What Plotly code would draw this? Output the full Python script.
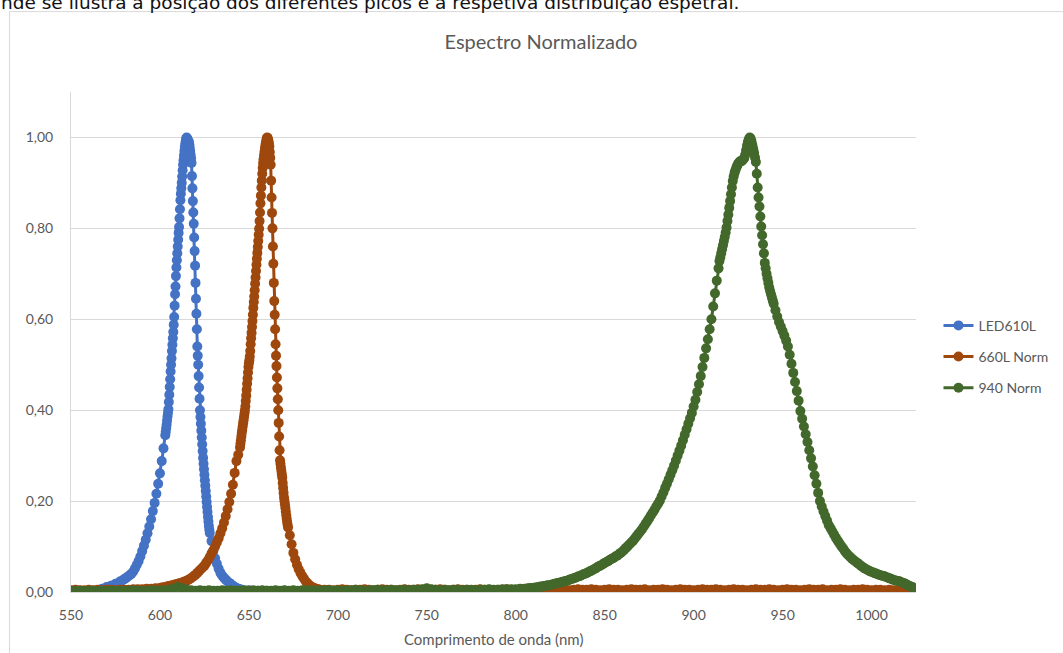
import plotly.graph_objects as go

# Normalised emission spectra. Each spectrum is stored as sampled runs:
# (first wavelength in nm, sampling step in nm, normalised intensities).
LED610L = [
    (550, 2.5, [0.002, 0.002, 0.003, 0.002, 0.003, 0.003, 0.004, 0.007, 0.011, 0.014, 0.018, 0.023]),
    (579, 1, [0.026, 0.028, 0.031, 0.034, 0.037, 0.040, 0.045, 0.052, 0.060, 0.068,
              0.078, 0.090, 0.102, 0.115, 0.129, 0.144, 0.160, 0.178, 0.196, 0.216,
              0.238, 0.261, 0.288, 0.316, 0.345]),
    (603.25, 0.25, [0.352, 0.360, 0.368, 0.377, 0.386, 0.394, 0.402, 0.418, 0.434, 0.451,
                    0.468, 0.485, 0.500, 0.514, 0.530, 0.544, 0.558, 0.572, 0.588, 0.605,
                    0.630, 0.655, 0.672, 0.695, 0.714, 0.730, 0.745, 0.760, 0.775, 0.790,
                    0.803, 0.822, 0.842, 0.862, 0.876, 0.888, 0.900, 0.914, 0.928, 0.940,
                    0.950, 0.960, 0.970, 0.979, 0.986, 0.992, 0.997, 1.000, 0.998, 0.996,
                    0.994, 0.992, 0.990, 0.985, 0.978, 0.970, 0.962, 0.954, 0.944, 0.915,
                    0.888, 0.860, 0.835, 0.810, 0.780, 0.750, 0.718, 0.680, 0.645, 0.612,
                    0.578, 0.540, 0.520, 0.500, 0.475, 0.450, 0.425, 0.400, 0.385, 0.370,
                    0.355, 0.340, 0.325, 0.310, 0.295, 0.282, 0.270, 0.258, 0.246, 0.234,
                    0.222, 0.210, 0.198, 0.187, 0.176, 0.165, 0.155, 0.145, 0.137, 0.130]),
    (629, 1, [0.112, 0.090, 0.074, 0.062, 0.051, 0.042, 0.036, 0.031, 0.027, 0.023,
              0.020, 0.017, 0.014, 0.011, 0.009, 0.007, 0.006, 0.005]),
    (650, 5, [0.004, 0.003, 0.003, 0.002, 0.003, 0.002, 0.002, 0.003, 0.002, 0.002,
              0.003, 0.002, 0.002, 0.003, 0.002, 0.002, 0.003, 0.002, 0.002, 0.003,
              0.002, 0.002, 0.003, 0.002, 0.002, 0.003, 0.002, 0.002, 0.003, 0.002,
              0.002, 0.003, 0.002, 0.002, 0.003, 0.002, 0.002, 0.003, 0.002, 0.002,
              0.003, 0.002, 0.002, 0.003, 0.002, 0.002, 0.003, 0.002, 0.002, 0.003,
              0.002, 0.002, 0.003, 0.002, 0.002, 0.003, 0.002, 0.002, 0.003, 0.002,
              0.002, 0.003, 0.002, 0.002, 0.003, 0.002, 0.002, 0.003, 0.002, 0.002,
              0.003, 0.002, 0.002, 0.003, 0.002, 0.002]),
]

LED660_NORM = [
    (550, 2.5, [0.004, 0.005, 0.004, 0.004, 0.005, 0.004, 0.005, 0.004, 0.005, 0.005,
                0.004, 0.005, 0.005, 0.005, 0.006, 0.006, 0.006, 0.007, 0.007, 0.008, 0.009]),
    (601, 1, [0.010, 0.010, 0.011, 0.012, 0.013, 0.014, 0.015, 0.016, 0.017, 0.018,
              0.019, 0.020, 0.022, 0.023, 0.025, 0.027, 0.029, 0.032, 0.035, 0.038,
              0.042, 0.046, 0.050, 0.054, 0.058, 0.064, 0.070, 0.077, 0.085, 0.092,
              0.100, 0.109, 0.118, 0.129, 0.140, 0.153, 0.167, 0.182, 0.198, 0.216,
              0.236, 0.262, 0.288, 0.302, 0.318]),
    (645.25, 0.25, [0.326, 0.334, 0.342, 0.350, 0.357, 0.364, 0.371, 0.378, 0.385, 0.392,
                    0.399, 0.408, 0.420, 0.432, 0.445, 0.458, 0.470, 0.483, 0.495, 0.503,
                    0.510, 0.518, 0.530, 0.545, 0.558, 0.570, 0.583, 0.596, 0.610, 0.625,
                    0.638, 0.650, 0.664, 0.678, 0.692, 0.706, 0.720, 0.733, 0.746, 0.759,
                    0.772, 0.786, 0.799, 0.816, 0.835, 0.855, 0.872, 0.890, 0.905, 0.920,
                    0.933, 0.944, 0.952, 0.960, 0.968, 0.975, 0.981, 0.987, 0.992, 0.997,
                    1.000, 0.999, 0.996, 0.992, 0.987, 0.980, 0.968, 0.955, 0.940, 0.905,
                    0.868, 0.834, 0.800, 0.760, 0.722, 0.680, 0.640, 0.610, 0.578, 0.545,
                    0.520, 0.497, 0.472, 0.448, 0.424, 0.400, 0.372, 0.342, 0.312, 0.290,
                    0.282, 0.274, 0.266, 0.259, 0.252, 0.240, 0.229, 0.218, 0.208, 0.200,
                    0.193, 0.185, 0.177, 0.169, 0.161, 0.154, 0.148, 0.142]),
    (673, 1, [0.125, 0.105, 0.086, 0.072, 0.060, 0.050, 0.042, 0.035, 0.029, 0.023,
              0.019, 0.015, 0.012, 0.010, 0.008, 0.007, 0.006, 0.005]),
    (692.5, 2.5, [0.005, 0.005, 0.004, 0.005, 0.006, 0.005, 0.004, 0.005, 0.005, 0.006,
                  0.005, 0.004, 0.005, 0.006, 0.005, 0.005, 0.004, 0.005, 0.006, 0.005,
                  0.005, 0.006, 0.005, 0.004, 0.005, 0.005, 0.006, 0.005, 0.004, 0.005,
                  0.006, 0.005, 0.005, 0.004, 0.005, 0.006, 0.005, 0.005, 0.004, 0.005,
                  0.005, 0.006, 0.005, 0.004, 0.005, 0.006, 0.005, 0.005, 0.006, 0.005,
                  0.004, 0.005, 0.006, 0.005, 0.005, 0.004, 0.005, 0.006, 0.005, 0.005,
                  0.006, 0.005, 0.004, 0.005, 0.006, 0.005, 0.005, 0.004, 0.005, 0.006,
                  0.005, 0.005, 0.006, 0.004, 0.005, 0.005, 0.006, 0.005, 0.004, 0.005,
                  0.006, 0.005, 0.005, 0.004, 0.005, 0.006, 0.005, 0.005, 0.006, 0.005,
                  0.004, 0.005, 0.006, 0.005, 0.005, 0.004, 0.005, 0.006, 0.005, 0.005,
                  0.006, 0.005, 0.004, 0.005, 0.006, 0.005, 0.005, 0.004, 0.005, 0.006,
                  0.005, 0.005, 0.006, 0.004, 0.005, 0.005, 0.006, 0.005, 0.004, 0.005,
                  0.005, 0.006, 0.005, 0.004, 0.005, 0.005, 0.004, 0.005, 0.004, 0.004,
                  0.004, 0.003, 0.003, 0.003]),
]

LED940_NORM = [
    (550, 2.5, [0.003, 0.002, 0.003, 0.002, 0.003, 0.003, 0.002, 0.003, 0.002, 0.003,
                0.003, 0.002, 0.003, 0.003, 0.004, 0.003, 0.002, 0.003, 0.004, 0.003,
                0.004, 0.003, 0.005, 0.007, 0.011, 0.008, 0.005, 0.004, 0.003, 0.004,
                0.003, 0.004, 0.003, 0.003, 0.004, 0.003, 0.004, 0.003, 0.003, 0.004,
                0.003, 0.004, 0.003, 0.004, 0.003, 0.003, 0.004, 0.003, 0.004, 0.003,
                0.004, 0.003, 0.004, 0.004, 0.003, 0.004, 0.003, 0.004, 0.004, 0.003,
                0.004, 0.003, 0.004, 0.004, 0.005, 0.004, 0.003, 0.004, 0.004, 0.005,
                0.004, 0.004, 0.005, 0.004, 0.004, 0.005, 0.004, 0.005, 0.005, 0.006,
                0.008, 0.006, 0.005, 0.004, 0.005, 0.004, 0.005, 0.005, 0.004, 0.005,
                0.005, 0.004, 0.005, 0.005, 0.006, 0.005, 0.005, 0.006, 0.006, 0.006,
                0.006, 0.007, 0.007]),
    (806, 1, [0.007, 0.008, 0.008, 0.009, 0.009, 0.010, 0.010, 0.011, 0.012, 0.012,
              0.013, 0.014, 0.015, 0.015, 0.016, 0.017, 0.018, 0.019, 0.020, 0.021,
              0.022, 0.023, 0.024, 0.025, 0.027, 0.028, 0.029, 0.031, 0.032, 0.034,
              0.035, 0.037, 0.039, 0.040, 0.042, 0.044, 0.046, 0.048, 0.050, 0.052,
              0.055, 0.057, 0.059, 0.061, 0.064, 0.066, 0.068, 0.071, 0.073, 0.075,
              0.078, 0.080, 0.083, 0.086, 0.089, 0.093, 0.097, 0.101, 0.105, 0.109,
              0.113, 0.118, 0.123, 0.128, 0.133, 0.138, 0.144, 0.150, 0.156, 0.162,
              0.169, 0.175, 0.181, 0.188, 0.194, 0.201, 0.210, 0.219, 0.229, 0.238,
              0.248, 0.258, 0.268, 0.278, 0.289, 0.300, 0.311, 0.322, 0.334, 0.346,
              0.358, 0.370, 0.382, 0.394, 0.408, 0.423, 0.440, 0.457, 0.475, 0.495,
              0.515, 0.536, 0.556, 0.578, 0.600, 0.628, 0.657, 0.685, 0.712]),
    (914.5, 0.5, [0.728, 0.736, 0.745, 0.754, 0.763, 0.772, 0.781, 0.791, 0.802, 0.816,
                  0.830, 0.845, 0.860, 0.875, 0.890, 0.904, 0.914, 0.922, 0.928, 0.934,
                  0.938, 0.942, 0.945, 0.947, 0.948, 0.948, 0.950, 0.952, 0.955, 0.962,
                  0.972, 0.982, 0.990, 0.996, 1.000, 0.998, 0.992, 0.984, 0.975, 0.966,
                  0.956, 0.946, 0.920, 0.890, 0.868, 0.848, 0.826, 0.804, 0.785, 0.765,
                  0.745, 0.724, 0.712, 0.700, 0.690, 0.680, 0.670, 0.662, 0.655, 0.648,
                  0.641, 0.634]),
    (946, 1, [0.620, 0.606, 0.594, 0.584, 0.574, 0.564, 0.553, 0.540, 0.522, 0.502,
              0.482, 0.462, 0.442, 0.421, 0.398, 0.381, 0.364, 0.347, 0.330, 0.312,
              0.294, 0.276, 0.257, 0.238, 0.218, 0.200, 0.188, 0.177, 0.167, 0.157,
              0.147, 0.140, 0.133, 0.126, 0.119, 0.113, 0.107, 0.101, 0.096, 0.090,
              0.085, 0.081, 0.077, 0.073, 0.070, 0.067, 0.064, 0.061, 0.058, 0.055,
              0.052, 0.050, 0.048, 0.046, 0.044, 0.043, 0.041, 0.040, 0.038, 0.037,
              0.036, 0.035, 0.033, 0.032, 0.030, 0.029, 0.027, 0.026, 0.025, 0.024,
              0.023, 0.021, 0.020, 0.018, 0.016, 0.014, 0.012, 0.011, 0.008, 0.005]),
]

SERIES = [
    ("LED610L", LED610L, "#4472C4"),
    ("660L Norm", LED660_NORM, "#9E480E"),
    ("940 Norm", LED940_NORM, "#43682B"),
]

X_RANGE = [550, 1025]
Y_RANGE = [0, 1.1]

# Figure geometry (pixels)
W, H = 1063, 653
L, R, T, B = 71, 916.5, 92, 592.5


def px_x(px):
    return (px - L) / (R - L)


def px_y(py):
    return (B - py) / (B - T)


def expand(runs):
    xs, ys = [], []
    for start, step, vals in runs:
        for i, v in enumerate(vals):
            xs.append(round(start + step * i, 3))
            ys.append(v)
    return xs, ys


GREY = "#595959"
FONT = "Lato"

fig = go.Figure()
for name, runs, color in SERIES:
    xs, ys = expand(runs)
    fig.add_trace(go.Scatter(
        x=xs, y=ys, name=name, legendgroup=name,
        mode="lines+markers",
        line=dict(color=color, width=3),
        marker=dict(color=color, size=10, line=dict(width=0)),
    ))

fig.update_layout(
    width=W, height=H,
    margin=dict(l=L, r=W - R, t=T, b=H - B, autoexpand=False),
    paper_bgcolor="white", plot_bgcolor="white",
    separators=",.",
    font=dict(family=FONT, color=GREY, size=14),
    title=dict(text="Espectro Normalizado", x=541 / W, xref="container", xanchor="center",
               y=1 - 42 / H, yref="container", yanchor="middle",
               font=dict(family=FONT, size=20, color=GREY)),
    showlegend=True,
    legend=dict(x=px_x(939), xanchor="left", y=px_y(310), yanchor="top",
                font=dict(family=FONT, size=14, color=GREY),
                traceorder="grouped", tracegroupgap=10,
                bgcolor="rgba(0,0,0,0)", borderwidth=0),
    xaxis=dict(range=X_RANGE, tick0=550, dtick=50, tickformat="d",
               showgrid=False, zeroline=False,
               showline=True, linecolor="#D9D9D9", linewidth=1,
               ticks="", ticklabelstandoff=10,
               tickfont=dict(family=FONT, size=14, color=GREY)),
    yaxis=dict(range=Y_RANGE, tick0=0, dtick=0.2, tickformat=".2f",
               showgrid=True, gridcolor="#D9D9D9", gridwidth=1, zeroline=False,
               showline=True, linecolor="#D9D9D9", linewidth=1,
               ticks="", ticklabelstandoff=14,
               tickfont=dict(family=FONT, size=14, color=GREY)),
    annotations=[
        dict(text="Comprimento de onda (nm)", x=0.5, y=px_y(640), xref="paper", yref="paper",
             xanchor="center", yanchor="middle", showarrow=False,
             font=dict(family=FONT, size=15, color=GREY)),
        dict(text="nde se ilustra a posição dos diferentes picos e a respetiva distribuição espetral.",
             x=px_x(-1), y=px_y(15), xref="paper", yref="paper",
             xanchor="left", yanchor="bottom", showarrow=False,
             font=dict(family="DejaVu Sans", size=18.5, color="#111111")),
    ],
    shapes=[
        dict(type="line", xref="paper", yref="paper", x0=px_x(9.5), x1=px_x(9.5),
             y0=px_y(11.5), y1=px_y(H + 5), line=dict(color="#D9D9D9", width=1)),
        dict(type="line", xref="paper", yref="paper", x0=px_x(9.5), x1=px_x(W + 5),
             y0=px_y(11.5), y1=px_y(11.5), line=dict(color="#D9D9D9", width=1)),
    ],
)

fig.write_html("out.html")
